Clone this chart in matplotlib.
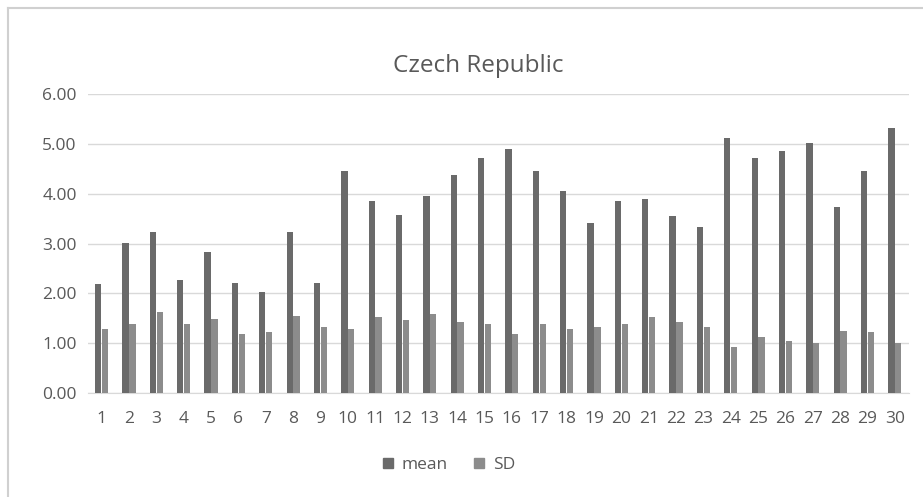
import matplotlib.pyplot as plt
import numpy as np
from matplotlib.lines import Line2D

plt.rcParams["font.family"] = ["Open Sans", "DejaVu Sans"]

# ── Data ──
items = [str(i) for i in range(1, 31)]
mean = [2.19, 3.01, 3.24, 2.27, 2.84, 2.20, 2.02, 3.24, 2.20, 4.46,
        3.86, 3.58, 3.96, 4.38, 4.71, 4.89, 4.46, 4.05, 3.42, 3.86,
        3.90, 3.55, 3.33, 5.12, 4.71, 4.85, 5.02, 3.74, 4.46, 5.32]
sd = [1.28, 1.38, 1.62, 1.38, 1.48, 1.19, 1.23, 1.54, 1.32, 1.28,
      1.52, 1.47, 1.58, 1.42, 1.38, 1.19, 1.38, 1.28, 1.32, 1.38,
      1.52, 1.42, 1.32, 0.92, 1.12, 1.05, 1.00, 1.24, 1.23, 1.00]

C_MEAN = "#6a6a6a"
C_SD = "#8c8c8c"
C_GRID = "#d9d9d9"
C_TEXT = "#595959"

fig = plt.figure(figsize=(9.23, 4.97), dpi=100)
fig.patch.set_facecolor("white")
ax = fig.add_axes([0.0953, 0.209, 0.889, 0.602])

x = np.arange(len(items))
w = 0.23
ax.bar(x - w / 2 - 0.01, mean, width=w, color=C_MEAN, label="mean", zorder=3)
ax.bar(x + w / 2 + 0.01, sd, width=w, color=C_SD, label="SD", zorder=3)

ax.set_xlim(-0.5, len(items) - 0.5)
ax.set_ylim(0, 6)
ax.set_yticks(np.arange(0, 7, 1))
ax.set_yticklabels([f"{v:.2f}" for v in range(7)], fontsize=12.5, color=C_TEXT)
ax.set_xticks(x)
ax.set_xticklabels(items, fontsize=12.5, color=C_TEXT)
ax.tick_params(length=0)
ax.tick_params(axis="x", pad=13)
ax.tick_params(axis="y", pad=8)
ax.grid(axis="y", color=C_GRID, lw=1, zorder=0)
for s in ["top", "right", "left"]:
    ax.spines[s].set_visible(False)
ax.spines["bottom"].set_color(C_GRID)

fig.text(0.518, 0.868, "Czech Republic", ha="center", va="center",
         fontsize=17.5, color=C_TEXT)

handles = [Line2D([], [], marker="s", ls="", color=C_MEAN, markersize=7),
           Line2D([], [], marker="s", ls="", color=C_SD, markersize=7)]
fig.legend(handles, ["mean", "SD"], loc="center", bbox_to_anchor=(0.48, 0.064),
           ncol=2, frameon=False, fontsize=12.5, handletextpad=-0.2,
           columnspacing=0.8, labelcolor=C_TEXT)

# chart area border
fig.add_artist(Line2D([0.009, 0.009], [0.0, 0.984], color="#d0d0d0", lw=1.5,
                      transform=fig.transFigure))
fig.add_artist(Line2D([0.009, 1.0], [0.984, 0.984], color="#d0d0d0", lw=1.5,
                      transform=fig.transFigure))

fig.savefig("out.png", dpi=100, facecolor="white")
